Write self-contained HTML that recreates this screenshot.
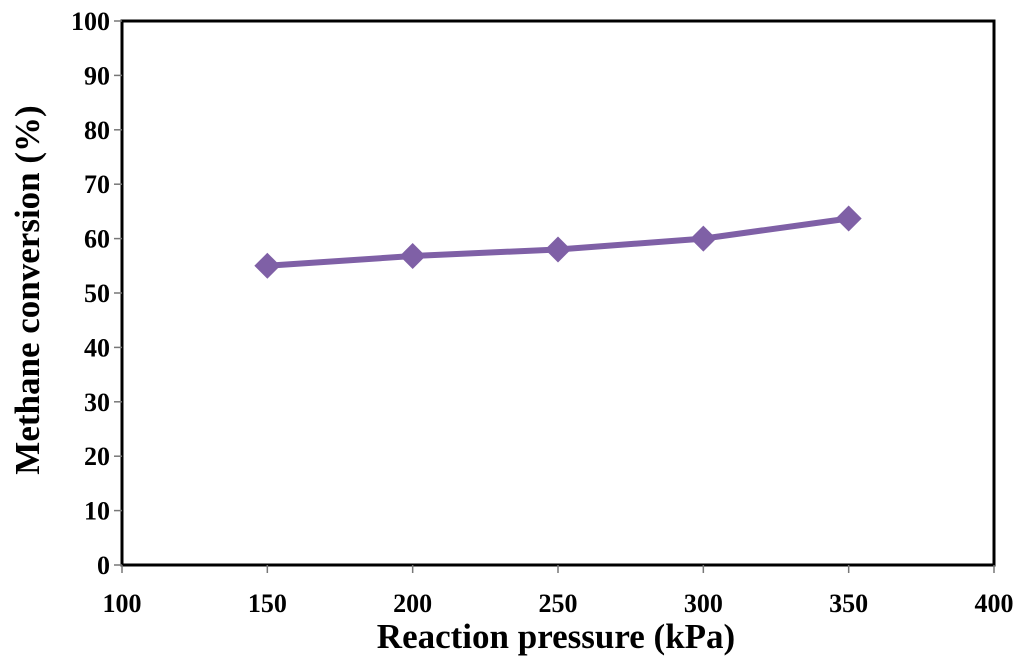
<!DOCTYPE html>
<html><head><meta charset="utf-8"><style>
body{margin:0;background:#fff}
text{font-family:"Liberation Serif",serif;font-weight:bold;fill:#000}
</style></head><body>
<svg id="chart" width="1024" height="662" xmlns="http://www.w3.org/2000/svg">
<g id="axes"></g><g id="series"></g>
<text x="556" y="648" font-size="35" text-anchor="middle">Reaction pressure (kPa)</text>
<text transform="translate(39,290) rotate(-90)" font-size="35" text-anchor="middle">Methane conversion (%)</text>
</svg>
<script>
const xValues=[150,200,250,300,350];
const yValues=[55,56.8,58,60,63.7];
const xTicks=[100,150,200,250,300,350,400];
const yTicks=[0,10,20,30,40,50,60,70,80,90,100];
const L=122,R=994,T=21,B=565;
const sx=v=>L+(v-100)/300*(R-L);
const sy=v=>B-v/100*(B-T);
const NS='http://www.w3.org/2000/svg';
function mk(tag,attrs,parent){const e=document.createElementNS(NS,tag);for(const k in attrs)e.setAttribute(k,attrs[k]);parent.appendChild(e);return e;}
const ax=document.getElementById('axes'),se=document.getElementById('series');
const frame=mk('rect',{x:L,y:T,width:R-L,height:B-T,fill:'none',stroke:'#000','stroke-width':3},ax);


yTicks.forEach(v=>{
 const t=mk('line',{x1:L-8,x2:L,y1:sy(v),y2:sy(v),stroke:'#777','stroke-width':1.5},ax);
 
 
 const l=mk('text',{x:L-12,y:sy(v)+9,'font-size':26,'text-anchor':'end'},ax);l.textContent=v;
 
 
});
xTicks.forEach(v=>{
 const t=mk('line',{x1:sx(v),x2:sx(v),y1:B,y2:B+8,stroke:'#777','stroke-width':1.5},ax);
 
 
 const l=mk('text',{x:sx(v),y:B+47,'font-size':26,'text-anchor':'middle'},ax);l.textContent=v;
 
 
});
const pl=mk('polyline',{points:xValues.map((x,i)=>sx(x)+','+sy(yValues[i])).join(' '),fill:'none',stroke:'#7F60A6','stroke-width':6,'stroke-linejoin':'round'},se);


xValues.forEach((x,i)=>{
 const cx=sx(x),cy=sy(yValues[i]),s=13;
 const p=mk('polygon',{points:`${cx},${cy-s} ${cx+s},${cy} ${cx},${cy+s} ${cx-s},${cy}`,fill:'#7F60A6'},se);
 
 
});
</script>
</body></html>
